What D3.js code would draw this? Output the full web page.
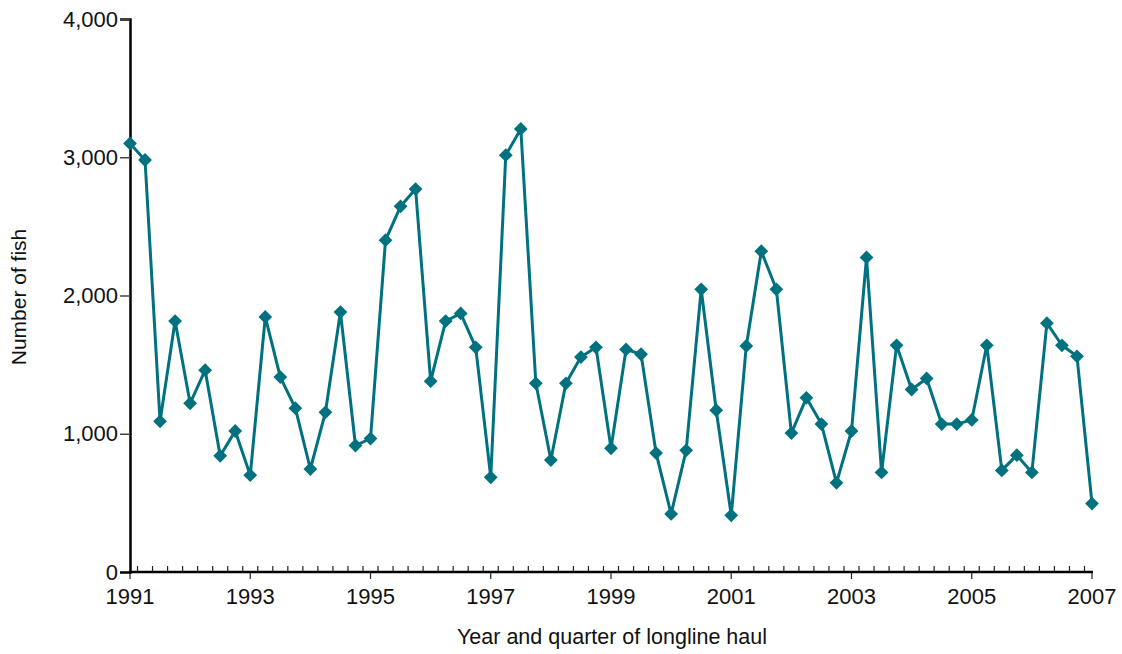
<!DOCTYPE html>
<html>
<head>
<meta charset="utf-8">
<style>
  body { margin: 0; background: #fff; }
  text { font-family: "Liberation Sans", Arial, sans-serif; fill: #111; }
</style>
</head>
<body>
<svg id="chart"></svg>
<script src="https://cdn.jsdelivr.net/npm/d3@7"></script>
<script>

// year of each quarter, quarter number (1-4)
let qYears = [1991,1991,1991,1991, 1992,1992,1992,1992, 1993,1993,1993,1993, 1994,1994,1994,1994,
              1995,1995,1995,1995, 1996,1996,1996,1996, 1997,1997,1997,1997, 1998,1998,1998,1998,
              1999,1999,1999,1999, 2000,2000,2000,2000, 2001,2001,2001,2001, 2002,2002,2002,2002,
              2003,2003,2003,2003, 2004,2004,2004,2004, 2005,2005,2005,2005, 2006,2006,2006,2006, 2007];
let qNums  = [1,2,3,4, 1,2,3,4, 1,2,3,4, 1,2,3,4, 1,2,3,4, 1,2,3,4, 1,2,3,4, 1,2,3,4,
              1,2,3,4, 1,2,3,4, 1,2,3,4, 1,2,3,4, 1,2,3,4, 1,2,3,4, 1,2,3,4, 1,2,3,4, 1];

// number of fish caught per quarter
let fish = [3100, 2980, 1090, 1815,   1220, 1460, 840, 1020,    700, 1845, 1410, 1185,
            745, 1155, 1880, 915,     965, 2400, 2645, 2770,    1380, 1815, 1870, 1625,
            685, 3015, 3205, 1365,    810, 1365, 1555, 1625,    895, 1610, 1575, 860,
            420, 880, 2045, 1170,     410, 1635, 2320, 2045,    1005, 1260, 1070, 645,
            1020, 2275, 720, 1640,    1320, 1400, 1070, 1070,   1100, 1640, 735, 845,
            720, 1800, 1640, 1560,    495];

let yTicks = [0, 1000, 2000, 3000, 4000];
let xLabels = [1991, 1993, 1995, 1997, 1999, 2001, 2003, 2005, 2007];

let width = 1122, height = 654;
let margin = {left: 130, top: 19, right: 30, bottom: 82};
let teal = "#00717f";
let fontSize = "22px";

let svg = d3.select("#chart")
            .attr("width", width)
            .attr("height", height);

let data = fish.map((v, i) => ({t: qYears[i] + (qNums[i] - 1) / 4, v: v}));

let x = d3.scaleLinear()
          .domain([1991, 2007])
          .range([margin.left, 1092]);
let y = d3.scaleLinear()
          .domain([0, 4000])
          .range([height - margin.bottom, margin.top]);

// y axis
let yAxis = svg.append("g")
               .attr("transform", `translate(${margin.left},0)`)
               .call(d3.axisLeft(y)
                        .tickValues(yTicks)
                        .tickSize(10)
                        .tickPadding(2)
                        .tickFormat(d3.format(",")));
yAxis.attr("font-size", null).attr("font-family", null);
yAxis.select(".domain").attr("stroke", "#000").attr("stroke-width", 2.5);
yAxis.selectAll(".tick line").attr("stroke", "#444").attr("stroke-width", 1.5)
     .filter(d => d == 0).remove();
yAxis.selectAll(".tick text")
     .style("font-size", fontSize)
     .attr("fill", "#111");

// x axis: quarter ticks between points (upward), two-year marks downward
let xBase = y(0);
let xAxis = svg.append("g");
let minor = d3.range(0, data.length - 1).map(i => (data[i].t + data[i + 1].t) / 2);
xAxis.selectAll(".minor")
     .data(minor)
     .enter()
     .append("line")
     .attr("x1", d => x(d)).attr("x2", d => x(d))
     .attr("y1", xBase).attr("y2", xBase - 6)
     .attr("stroke", "#222").attr("stroke-width", 1.2);
xAxis.selectAll(".major")
     .data(xLabels)
     .enter()
     .append("line")
     .attr("x1", d => x(d)).attr("x2", d => x(d))
     .attr("y1", xBase).attr("y2", xBase + 7)
     .attr("stroke", "#222").attr("stroke-width", 1.2);
xAxis.append("line")
     .attr("x1", x(1991) - 1).attr("x2", x(2007) + 1)
     .attr("y1", xBase).attr("y2", xBase)
     .attr("stroke", "#000").attr("stroke-width", 2.5);
xAxis.selectAll(".lbl")
     .data(xLabels)
     .enter()
     .append("text")
     .attr("x", d => x(d))
     .attr("y", xBase + 32)
     .attr("text-anchor", "middle")
     .style("font-size", fontSize)
     .text(d => d);

// line + diamonds
let line = d3.line()
             .x(d => x(d.t))
             .y(d => y(d.v));

svg.append("path")
   .datum(data)
   .attr("d", line)
   .attr("fill", "none")
   .attr("stroke", teal)
   .attr("stroke-width", 3)
   .attr("stroke-linejoin", "round");

let diamond = d3.symbol().type(d3.symbolSquare).size(95);
svg.selectAll(".pt")
   .data(data)
   .enter()
   .append("path")
   .attr("d", diamond)
   .attr("transform", d => `translate(${x(d.t)},${y(d.v)}) rotate(45)`)
   .attr("fill", teal);

// titles
svg.append("text")
   .attr("x", 612)
   .attr("y", 644)
   .attr("text-anchor", "middle")
   .style("font-size", "21.5px")
   .text("Year and quarter of longline haul");

svg.append("text")
   .attr("transform", "translate(26,297) rotate(-90)")
   .attr("text-anchor", "middle")
   .style("font-size", "21px")
   .text("Number of fish");

</script>
</body>
</html>
